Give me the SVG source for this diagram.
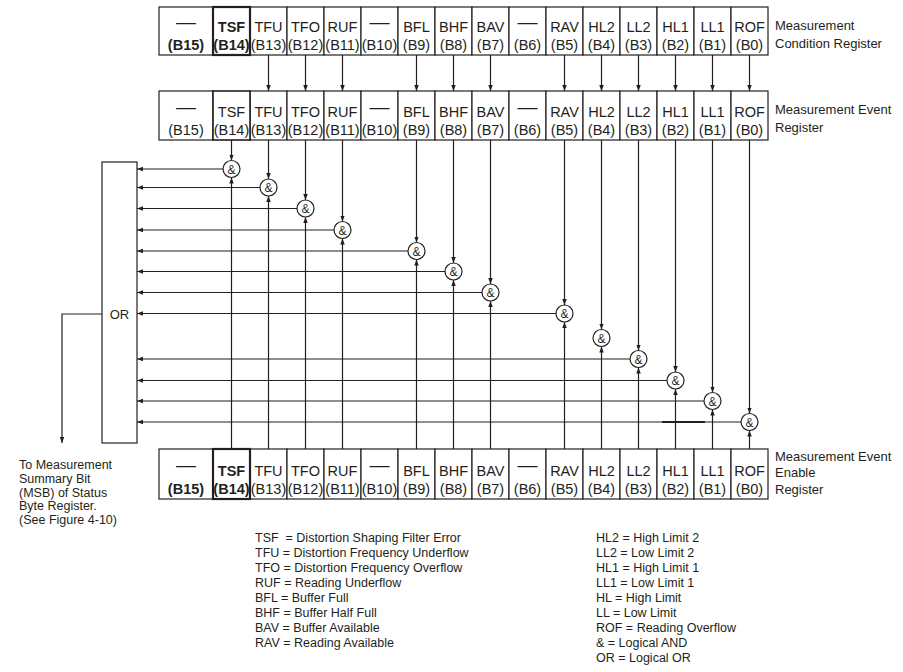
<svg xmlns="http://www.w3.org/2000/svg" width="903" height="672" viewBox="0 0 903 672">
<style>
text{font-family:"Liberation Sans",Arial,sans-serif;fill:#231f20}
.c{font-size:14.5px;text-anchor:middle}
.b{font-weight:bold}
.d{font-size:20px;text-anchor:middle}
.l{font-size:13px}
.g{font-size:12px;text-anchor:middle}
.t{font-size:12.5px;white-space:pre}
rect,circle{fill:#fff;stroke:#231f20;stroke-width:1.2}
rect.k{stroke-width:2.2}
.cn path{fill:none;stroke:#231f20;stroke-width:1.2}
.ar{marker-end:url(#a)}
</style>
<defs>
<marker id="a" markerUnits="userSpaceOnUse" markerWidth="7" markerHeight="5" refX="6" refY="2.25" orient="auto"><path d="M0,0 L6,2.25 L0,4.5 z" fill="#231f20"/></marker>
</defs>

<g id="condition-register">
<rect x="159" y="7" width="54" height="48"/>
<rect x="250" y="7" width="37" height="48"/><rect x="287" y="7" width="37" height="48"/><rect x="324" y="7" width="37" height="48"/><rect x="361" y="7" width="37" height="48"/><rect x="398" y="7" width="37" height="48"/><rect x="435" y="7" width="37" height="48"/><rect x="472" y="7" width="37" height="48"/><rect x="509" y="7" width="37" height="48"/><rect x="546" y="7" width="37" height="48"/><rect x="583" y="7" width="37" height="48"/><rect x="620" y="7" width="37" height="48"/><rect x="657" y="7" width="37" height="48"/><rect x="694" y="7" width="37" height="48"/><rect x="731" y="7" width="37" height="48"/>
<rect class="k" x="213" y="7" width="37" height="48"/>
<text class="d" x="186" y="29">—</text><text class="c b" x="186" y="50">(B15)</text>
<text class="c b" x="231.5" y="32">TSF</text><text class="c b" x="231.5" y="50">(B14)</text>
<text class="c" x="268.5" y="32">TFU</text><text class="c" x="268.5" y="50">(B13)</text>
<text class="c" x="305.5" y="32">TFO</text><text class="c" x="305.5" y="50">(B12)</text>
<text class="c" x="342.5" y="32">RUF</text><text class="c" x="342.5" y="50">(B11)</text>
<text class="d" x="379.5" y="29">—</text><text class="c" x="379.5" y="50">(B10)</text>
<text class="c" x="416.5" y="32">BFL</text><text class="c" x="416.5" y="50">(B9)</text>
<text class="c" x="453.5" y="32">BHF</text><text class="c" x="453.5" y="50">(B8)</text>
<text class="c" x="490.5" y="32">BAV</text><text class="c" x="490.5" y="50">(B7)</text>
<text class="d" x="527.5" y="29">—</text><text class="c" x="527.5" y="50">(B6)</text>
<text class="c" x="564.5" y="32">RAV</text><text class="c" x="564.5" y="50">(B5)</text>
<text class="c" x="601.5" y="32">HL2</text><text class="c" x="601.5" y="50">(B4)</text>
<text class="c" x="638.5" y="32">LL2</text><text class="c" x="638.5" y="50">(B3)</text>
<text class="c" x="675.5" y="32">HL1</text><text class="c" x="675.5" y="50">(B2)</text>
<text class="c" x="712.5" y="32">LL1</text><text class="c" x="712.5" y="50">(B1)</text>
<text class="c" x="749.5" y="32">ROF</text><text class="c" x="749.5" y="50">(B0)</text>
<text class="l" x="775" y="30">Measurement</text><text class="l" x="775" y="48">Condition Register</text>
</g>

<g id="event-register">
<rect x="159" y="91" width="54" height="49"/>
<rect x="250" y="91" width="37" height="49"/><rect x="287" y="91" width="37" height="49"/><rect x="324" y="91" width="37" height="49"/><rect x="361" y="91" width="37" height="49"/><rect x="398" y="91" width="37" height="49"/><rect x="435" y="91" width="37" height="49"/><rect x="472" y="91" width="37" height="49"/><rect x="509" y="91" width="37" height="49"/><rect x="546" y="91" width="37" height="49"/><rect x="583" y="91" width="37" height="49"/><rect x="620" y="91" width="37" height="49"/><rect x="657" y="91" width="37" height="49"/><rect x="694" y="91" width="37" height="49"/><rect x="731" y="91" width="37" height="49"/>
<rect x="213" y="91" width="37" height="49" style="stroke-width:1.6"/>
<text class="d" x="186" y="114">—</text><text class="c" x="186" y="135">(B15)</text>
<text class="c" x="231.5" y="117">TSF</text><text class="c" x="231.5" y="135">(B14)</text>
<text class="c" x="268.5" y="117">TFU</text><text class="c" x="268.5" y="135">(B13)</text>
<text class="c" x="305.5" y="117">TFO</text><text class="c" x="305.5" y="135">(B12)</text>
<text class="c" x="342.5" y="117">RUF</text><text class="c" x="342.5" y="135">(B11)</text>
<text class="d" x="379.5" y="114">—</text><text class="c" x="379.5" y="135">(B10)</text>
<text class="c" x="416.5" y="117">BFL</text><text class="c" x="416.5" y="135">(B9)</text>
<text class="c" x="453.5" y="117">BHF</text><text class="c" x="453.5" y="135">(B8)</text>
<text class="c" x="490.5" y="117">BAV</text><text class="c" x="490.5" y="135">(B7)</text>
<text class="d" x="527.5" y="114">—</text><text class="c" x="527.5" y="135">(B6)</text>
<text class="c" x="564.5" y="117">RAV</text><text class="c" x="564.5" y="135">(B5)</text>
<text class="c" x="601.5" y="117">HL2</text><text class="c" x="601.5" y="135">(B4)</text>
<text class="c" x="638.5" y="117">LL2</text><text class="c" x="638.5" y="135">(B3)</text>
<text class="c" x="675.5" y="117">HL1</text><text class="c" x="675.5" y="135">(B2)</text>
<text class="c" x="712.5" y="117">LL1</text><text class="c" x="712.5" y="135">(B1)</text>
<text class="c" x="749.5" y="117">ROF</text><text class="c" x="749.5" y="135">(B0)</text>
<text class="l" x="775" y="114">Measurement Event</text><text class="l" x="775" y="132">Register</text>
</g>

<g id="enable-register">
<rect x="159" y="449" width="54" height="50"/>
<rect x="250" y="449" width="37" height="50"/><rect x="287" y="449" width="37" height="50"/><rect x="324" y="449" width="37" height="50"/><rect x="361" y="449" width="37" height="50"/><rect x="398" y="449" width="37" height="50"/><rect x="435" y="449" width="37" height="50"/><rect x="472" y="449" width="37" height="50"/><rect x="509" y="449" width="37" height="50"/><rect x="546" y="449" width="37" height="50"/><rect x="583" y="449" width="37" height="50"/><rect x="620" y="449" width="37" height="50"/><rect x="657" y="449" width="37" height="50"/><rect x="694" y="449" width="37" height="50"/><rect x="731" y="449" width="37" height="50"/>
<rect class="k" x="213" y="449" width="37" height="50"/>
<text class="d" x="186" y="472">—</text><text class="c b" x="186" y="494">(B15)</text>
<text class="c b" x="231.5" y="476">TSF</text><text class="c b" x="231.5" y="494">(B14)</text>
<text class="c" x="268.5" y="476">TFU</text><text class="c" x="268.5" y="494">(B13)</text>
<text class="c" x="305.5" y="476">TFO</text><text class="c" x="305.5" y="494">(B12)</text>
<text class="c" x="342.5" y="476">RUF</text><text class="c" x="342.5" y="494">(B11)</text>
<text class="d" x="379.5" y="472">—</text><text class="c" x="379.5" y="494">(B10)</text>
<text class="c" x="416.5" y="476">BFL</text><text class="c" x="416.5" y="494">(B9)</text>
<text class="c" x="453.5" y="476">BHF</text><text class="c" x="453.5" y="494">(B8)</text>
<text class="c" x="490.5" y="476">BAV</text><text class="c" x="490.5" y="494">(B7)</text>
<text class="d" x="527.5" y="472">—</text><text class="c" x="527.5" y="494">(B6)</text>
<text class="c" x="564.5" y="476">RAV</text><text class="c" x="564.5" y="494">(B5)</text>
<text class="c" x="601.5" y="476">HL2</text><text class="c" x="601.5" y="494">(B4)</text>
<text class="c" x="638.5" y="476">LL2</text><text class="c" x="638.5" y="494">(B3)</text>
<text class="c" x="675.5" y="476">HL1</text><text class="c" x="675.5" y="494">(B2)</text>
<text class="c" x="712.5" y="476">LL1</text><text class="c" x="712.5" y="494">(B1)</text>
<text class="c" x="749.5" y="476">ROF</text><text class="c" x="749.5" y="494">(B0)</text>
<text class="l" x="775" y="461">Measurement Event</text><text class="l" x="775" y="477">Enable</text><text class="l" x="775" y="494">Register</text>
</g>

<g id="or-gate">
<rect x="102" y="162" width="35" height="281"/>
<text class="l" x="119.5" y="319" text-anchor="middle">OR</text>
</g>

<g class="cn" id="connectors">
<path class="ar" d="M268.5,55V91"/><path class="ar" d="M305.5,55V91"/><path class="ar" d="M342.5,55V91"/><path class="ar" d="M416.5,55V91"/><path class="ar" d="M453.5,55V91"/><path class="ar" d="M490.5,55V91"/><path class="ar" d="M564.5,55V91"/><path class="ar" d="M601.5,55V91"/><path class="ar" d="M638.5,55V91"/><path class="ar" d="M675.5,55V91"/><path class="ar" d="M712.5,55V91"/><path class="ar" d="M749.5,55V91"/>
<path class="ar" d="M231.5,140V160.5"/><path class="ar" d="M268.5,140V179"/><path class="ar" d="M305.5,140V200"/><path class="ar" d="M342.5,140V221.5"/><path class="ar" d="M416.5,140V242.5"/><path class="ar" d="M453.5,140V263"/><path class="ar" d="M490.5,140V284"/><path class="ar" d="M564.5,140V305"/><path class="ar" d="M601.5,140V329.5"/><path class="ar" d="M638.5,140V350.5"/><path class="ar" d="M675.5,140V372"/><path class="ar" d="M712.5,140V392.5"/><path class="ar" d="M749.5,140V413.5"/>
<path class="ar" d="M231.5,449V177.5"/><path class="ar" d="M268.5,449V196"/><path class="ar" d="M305.5,449V217"/><path class="ar" d="M342.5,449V238.5"/><path class="ar" d="M416.5,449V259.5"/><path class="ar" d="M453.5,449V280"/><path class="ar" d="M490.5,449V301"/><path class="ar" d="M564.5,449V322"/><path class="ar" d="M601.5,449V346.5"/><path class="ar" d="M638.5,449V367.5"/><path class="ar" d="M675.5,449V389"/><path class="ar" d="M712.5,449V409.5"/><path class="ar" d="M749.5,449V430.5"/>
<path class="ar" d="M223,169H137"/><path class="ar" d="M260,187.5H137"/><path class="ar" d="M297,208.5H137"/><path class="ar" d="M334,230H137"/><path class="ar" d="M408,251H137"/><path class="ar" d="M445,271.5H137"/><path class="ar" d="M482,292.5H137"/><path class="ar" d="M556,313.5H137"/><path class="ar" d="M630,359H137"/><path class="ar" d="M667,380.5H137"/><path class="ar" d="M704,401H137"/><path class="ar" d="M741,422H137"/>
<path d="M662,422H705" style="stroke-width:1.8"/>
<path class="ar" d="M102,314H62V443"/>
</g>

<g id="and-b14"><circle cx="231.5" cy="169" r="8.5"/><text class="g" x="231.5" y="173.5">&amp;</text></g>
<g id="and-b13"><circle cx="268.5" cy="187.5" r="8.5"/><text class="g" x="268.5" y="192">&amp;</text></g>
<g id="and-b12"><circle cx="305.5" cy="208.5" r="8.5"/><text class="g" x="305.5" y="213">&amp;</text></g>
<g id="and-b11"><circle cx="342.5" cy="230" r="8.5"/><text class="g" x="342.5" y="234.5">&amp;</text></g>
<g id="and-b9"><circle cx="416.5" cy="251" r="8.5"/><text class="g" x="416.5" y="255.5">&amp;</text></g>
<g id="and-b8"><circle cx="453.5" cy="271.5" r="8.5"/><text class="g" x="453.5" y="276">&amp;</text></g>
<g id="and-b7"><circle cx="490.5" cy="292.5" r="8.5"/><text class="g" x="490.5" y="297">&amp;</text></g>
<g id="and-b5"><circle cx="564.5" cy="313.5" r="8.5"/><text class="g" x="564.5" y="318">&amp;</text></g>
<g id="and-b4"><circle cx="601.5" cy="338" r="8.5"/><text class="g" x="601.5" y="342.5">&amp;</text></g>
<g id="and-b3"><circle cx="638.5" cy="359" r="8.5"/><text class="g" x="638.5" y="363.5">&amp;</text></g>
<g id="and-b2"><circle cx="675.5" cy="380.5" r="8.5"/><text class="g" x="675.5" y="385">&amp;</text></g>
<g id="and-b1"><circle cx="712.5" cy="401" r="8.5"/><text class="g" x="712.5" y="405.5">&amp;</text></g>
<g id="and-b0"><circle cx="749.5" cy="422" r="8.5"/><text class="g" x="749.5" y="426.5">&amp;</text></g>

<g id="summary-note">
<text class="t" x="19" y="469">To Measurement</text>
<text class="t" x="19" y="483">Summary Bit</text>
<text class="t" x="19" y="497">(MSB) of Status</text>
<text class="t" x="19" y="510">Byte Register.</text>
<text class="t" x="19" y="524">(See Figure 4-10)</text>
</g>

<g id="legend">
<text class="t" x="255" y="542">TSF  = Distortion Shaping Filter Error</text>
<text class="t" x="255" y="557">TFU = Distortion Frequency Underflow</text>
<text class="t" x="255" y="572">TFO = Distortion Frequency Overflow</text>
<text class="t" x="255" y="587">RUF = Reading Underflow</text>
<text class="t" x="255" y="602">BFL = Buffer Full</text>
<text class="t" x="255" y="617">BHF = Buffer Half Full</text>
<text class="t" x="255" y="632">BAV = Buffer Available</text>
<text class="t" x="255" y="647">RAV = Reading Available</text>
<text class="t" x="596" y="542">HL2 = High Limit 2</text>
<text class="t" x="596" y="557">LL2 = Low Limit 2</text>
<text class="t" x="596" y="572">HL1 = High Limit 1</text>
<text class="t" x="596" y="587">LL1 = Low Limit 1</text>
<text class="t" x="596" y="602">HL = High Limit</text>
<text class="t" x="596" y="617">LL = Low Limit</text>
<text class="t" x="596" y="632">ROF = Reading Overflow</text>
<text class="t" x="596" y="647">&amp; = Logical AND</text>
<text class="t" x="596" y="662">OR = Logical OR</text>
</g>
</svg>
